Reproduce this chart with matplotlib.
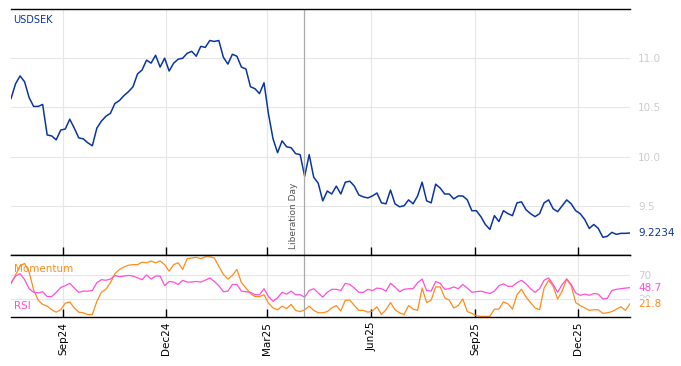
import matplotlib
matplotlib.use("Agg")
import matplotlib.pyplot as plt
import matplotlib.dates as mdates
import pandas as pd

dates = pd.date_range("2024-07-17", periods=138, freq="4D")

usdsek = [10.59, 10.74, 10.82, 10.76, 10.60, 10.51, 10.51, 10.53, 10.22, 10.21,
          10.17, 10.27, 10.28, 10.38, 10.29, 10.19, 10.18, 10.14, 10.11, 10.29,
          10.36, 10.41, 10.44, 10.54, 10.57, 10.62, 10.66, 10.71, 10.84, 10.88,
          10.98, 10.95, 11.03, 10.91, 11.00, 10.87, 10.95, 10.99, 11.00, 11.05,
          11.07, 11.02, 11.12, 11.11, 11.18, 11.17, 11.18, 11.01, 10.94, 11.04,
          11.02, 10.91, 10.89, 10.71, 10.69, 10.64, 10.75, 10.43, 10.18, 10.04,
          10.16, 10.10, 10.09, 10.03, 10.02, 9.80, 10.02, 9.79, 9.73, 9.55,
          9.65, 9.62, 9.70, 9.62, 9.74, 9.75, 9.70, 9.61, 9.59, 9.58,
          9.60, 9.63, 9.53, 9.52, 9.66, 9.52, 9.49, 9.50, 9.56, 9.52,
          9.60, 9.74, 9.55, 9.53, 9.72, 9.68, 9.62, 9.62, 9.57, 9.60,
          9.60, 9.56, 9.45, 9.45, 9.39, 9.31, 9.26, 9.40, 9.34, 9.45,
          9.42, 9.40, 9.53, 9.54, 9.46, 9.42, 9.39, 9.42, 9.53, 9.56,
          9.47, 9.44, 9.50, 9.56, 9.52, 9.45, 9.42, 9.36, 9.27, 9.31,
          9.27, 9.18, 9.19, 9.23, 9.21, 9.22, 9.22, 9.2234]

momentum = [55, 70, 85, 89, 75, 45, 28, 21, 18, 12,
            8, 12, 23, 25, 15, 8, 7, 4, 4, 26,
            41, 46, 57, 72, 79, 83, 86, 87, 87, 91,
            90, 93, 90, 93, 87, 76, 87, 90, 79, 97,
            98, 99, 97, 100, 100, 98, 84, 71, 63, 69,
            79, 57, 48, 39, 34, 34, 37, 23, 15, 12,
            18, 14, 21, 11, 9, 12, 18, 11, 7, 7,
            9, 15, 19, 10, 28, 28, 19, 11, 11, 8,
            10, 17, 4, 12, 24, 12, 7, 4, 19, 13,
            11, 48, 24, 28, 50, 50, 32, 28, 15, 19,
            30, 9, 6, 2, 1, 1, 1, 13, 13, 25,
            22, 13, 37, 46, 33, 24, 15, 12, 48, 61,
            51, 30, 43, 63, 52, 24, 19, 15, 11, 12,
            12, 6, 7, 9, 13, 17, 11, 21.8]

rsi = [57, 68, 72, 62, 47, 41, 40, 42, 34, 34,
       41, 49, 52, 56, 48, 41, 43, 43, 44, 57,
       62, 61, 63, 69, 67, 68, 69, 68, 65, 62,
       70, 63, 68, 68, 52, 59, 58, 54, 61, 58,
       58, 59, 58, 61, 65, 59, 52, 42, 43, 54,
       54, 43, 42, 41, 37, 37, 47, 34, 26, 32,
       41, 38, 43, 37, 37, 33, 44, 47, 40, 33,
       41, 46, 46, 44, 56, 54, 48, 41, 41, 46,
       44, 48, 47, 43, 56, 50, 42, 46, 47, 47,
       57, 63, 44, 43, 59, 56, 46, 47, 50, 47,
       54, 48, 41, 42, 43, 41, 39, 43, 52, 55,
       51, 51, 57, 61, 55, 47, 41, 47, 61, 65,
       54, 41, 54, 63, 54, 40, 36, 38, 36, 39,
       38, 30, 31, 44, 46, 47, 48, 48.7]

event_date = pd.Timestamp("2025-04-02")
event_label = "Liberation Day"

blue = "#0a36a0"
orange = "#ff8c1a"
pink = "#ff4fd8"
grid_c = "#e6e6e6"
label_c = "#cccccc"

fig = plt.figure(figsize=(6.81, 3.66), dpi=100)
ax = fig.add_axes([0.0162, 0.3033, 0.9088, 0.6721])
ax2 = fig.add_axes([0.0162, 0.1339, 0.9088, 0.1694], sharex=ax)

# Price panel
ax.plot(dates, usdsek, color=blue, lw=1.1)
ax.set_ylim(9.0, 11.5)
ax.set_yticks([9.5, 10.0, 10.5, 11.0])
ax.yaxis.tick_right()
ax.tick_params(axis="y", length=0, pad=6, labelsize=7.5, labelcolor=label_c)
ax.tick_params(axis="x", direction="in", length=6, width=1, labelbottom=False)
ax.grid(True, color=grid_c, lw=0.8)
ax.axvline(event_date, color="#aaaaaa", lw=0.9)
ax.text(event_date - pd.Timedelta(days=9), 9.06, event_label, rotation=90,
        fontsize=6.5, color="#555555", ha="center", va="bottom")
ax.text(0.004, 0.955, "USDSEK", transform=ax.transAxes, color=blue,
        fontsize=7, va="center")
ax.annotate(f"{usdsek[-1]:.4f}", xy=(1, usdsek[-1]), xycoords=("axes fraction", "data"),
            xytext=(6, 0), textcoords="offset points", color=blue,
            fontsize=7.5, va="center")

# Indicator panel
ax2.plot(dates, momentum, color=orange, lw=0.9)
ax2.plot(dates, rsi, color=pink, lw=0.9)
ax2.set_ylim(0, 103)
ax2.set_yticks([30, 70])
ax2.yaxis.tick_right()
ax2.tick_params(axis="y", length=0, pad=6, labelsize=7.5, labelcolor=label_c)
ax2.tick_params(axis="x", direction="in", length=6, width=1, labelsize=7.5,
                labelrotation=90)
ax2.grid(True, color=grid_c, lw=0.8)
ax2.axvline(event_date, color="#aaaaaa", lw=0.9)
ax2.text(0.004, 0.78, "Momentum", transform=ax2.transAxes, color=orange,
         fontsize=7.5, va="center")
ax2.text(0.004, 0.17, "RSI", transform=ax2.transAxes, color=pink,
         fontsize=7.5, va="center")
for val, col in [(rsi[-1], pink), (momentum[-1], orange)]:
    ax2.annotate(f"{val:.1f}", xy=(1, val), xycoords=("axes fraction", "data"),
                 xytext=(6, 0), textcoords="offset points", color=col,
                 fontsize=7.5, va="center",
                 bbox=dict(boxstyle="square,pad=0.1", fc="white", ec="none"))

ax2.xaxis.set_major_locator(mdates.MonthLocator(bymonth=[3, 6, 9, 12]))
ax2.xaxis.set_major_formatter(mdates.DateFormatter("%b%y"))
ax2.set_xlim(dates[0], dates[-1])

for a in (ax, ax2):
    a.spines["left"].set_visible(False)
    a.spines["right"].set_visible(False)
    a.spines["top"].set_linewidth(1)
    a.spines["bottom"].set_linewidth(1)

fig.savefig("out.png", dpi=100)
